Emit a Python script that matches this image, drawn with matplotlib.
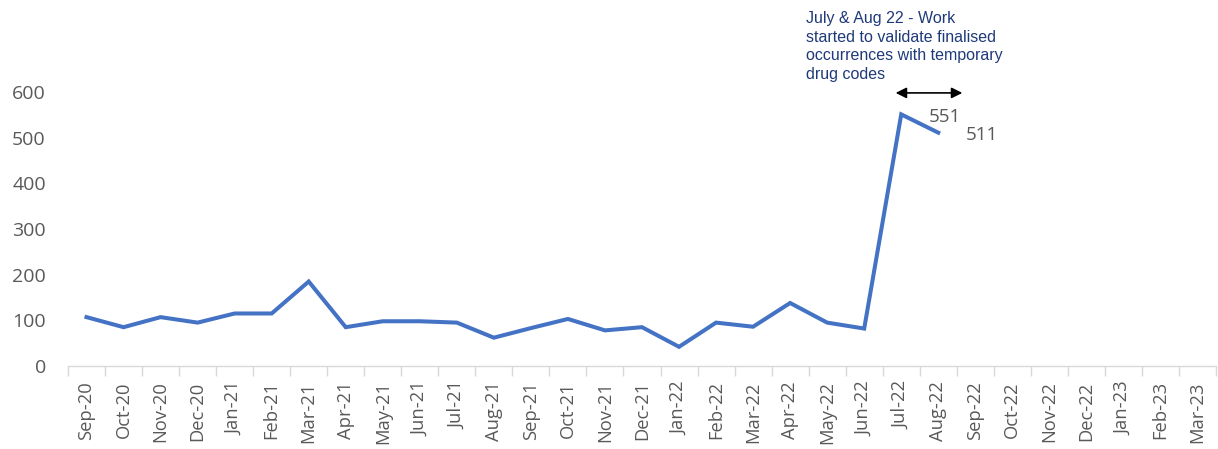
import matplotlib
matplotlib.use("Agg")
import matplotlib.pyplot as plt
from matplotlib.ticker import FixedLocator, NullFormatter

months = ["Sep-20", "Oct-20", "Nov-20", "Dec-20", "Jan-21", "Feb-21", "Mar-21", "Apr-21",
          "May-21", "Jun-21", "Jul-21", "Aug-21", "Sep-21", "Oct-21", "Nov-21", "Dec-21",
          "Jan-22", "Feb-22", "Mar-22", "Apr-22", "May-22", "Jun-22", "Jul-22", "Aug-22",
          "Sep-22", "Oct-22", "Nov-22", "Dec-22", "Jan-23", "Feb-23", "Mar-23"]
values = [107, 85, 107, 95, 115, 115, 185, 85, 98, 98, 95, 62, 83, 103, 78, 85,
          42, 95, 86, 138, 95, 82, 551, 511]
labelled = {22: "551", 23: "511"}
note = "July & Aug 22 - Work\nstarted to validate finalised\noccurrences with temporary\ndrug codes"

plt.rcParams['font.family'] = ['Open Sans', 'DejaVu Sans']
fig = plt.figure(figsize=(12.18, 4.49), dpi=100)
ax = fig.add_axes([68/1218, 83/449, 1148/1218, 274/449])

x = list(range(len(values)))
ax.plot(x, values, color="#4472C4", linewidth=2.9, solid_joinstyle="miter")

ax.set_xlim(-0.5, len(months) - 0.5)
ax.set_ylim(0, 600)
ax.set_yticks([0, 100, 200, 300, 400, 500, 600])
ax.set_xticks(range(len(months)))
ax.set_xticklabels(months, rotation=90)
ax.xaxis.set_minor_locator(FixedLocator([i - 0.5 for i in range(len(months) + 1)]))
ax.xaxis.set_minor_formatter(NullFormatter())
ax.tick_params(axis='x', which='major', length=0, pad=11, labelsize=13.2, labelcolor="#595959")
ax.tick_params(axis='x', which='minor', length=7, color="#d9d9d9", width=1)
ax.tick_params(axis='y', length=0, pad=16, labelsize=14, labelcolor="#595959")
for s in ["top", "right", "left"]:
    ax.spines[s].set_visible(False)
ax.spines["bottom"].set_color("#d9d9d9")
ax.spines["bottom"].set_linewidth(1)

for i, lab in labelled.items():
    ax.annotate(lab, (i, values[i]), xytext=(20, -2), textcoords="offset points",
                ha="left", va="center", fontsize=13.5, color="#595959",
                annotation_clip=False)

ax.annotate("", xy=(22.0 - 0.15, 598), xytext=(23.65, 598),
            arrowprops=dict(arrowstyle="<|-|>", color="black", lw=1.2,
                            mutation_scale=16, shrinkA=0, shrinkB=0),
            annotation_clip=False)

fig.text(806/1218, 1 - 11/449, note, ha="left", va="top", fontsize=11.5,
         color="#1F3A7A", linespacing=1.3, family=['Liberation Sans', 'DejaVu Sans'])

fig.savefig("out.png", dpi=100)
